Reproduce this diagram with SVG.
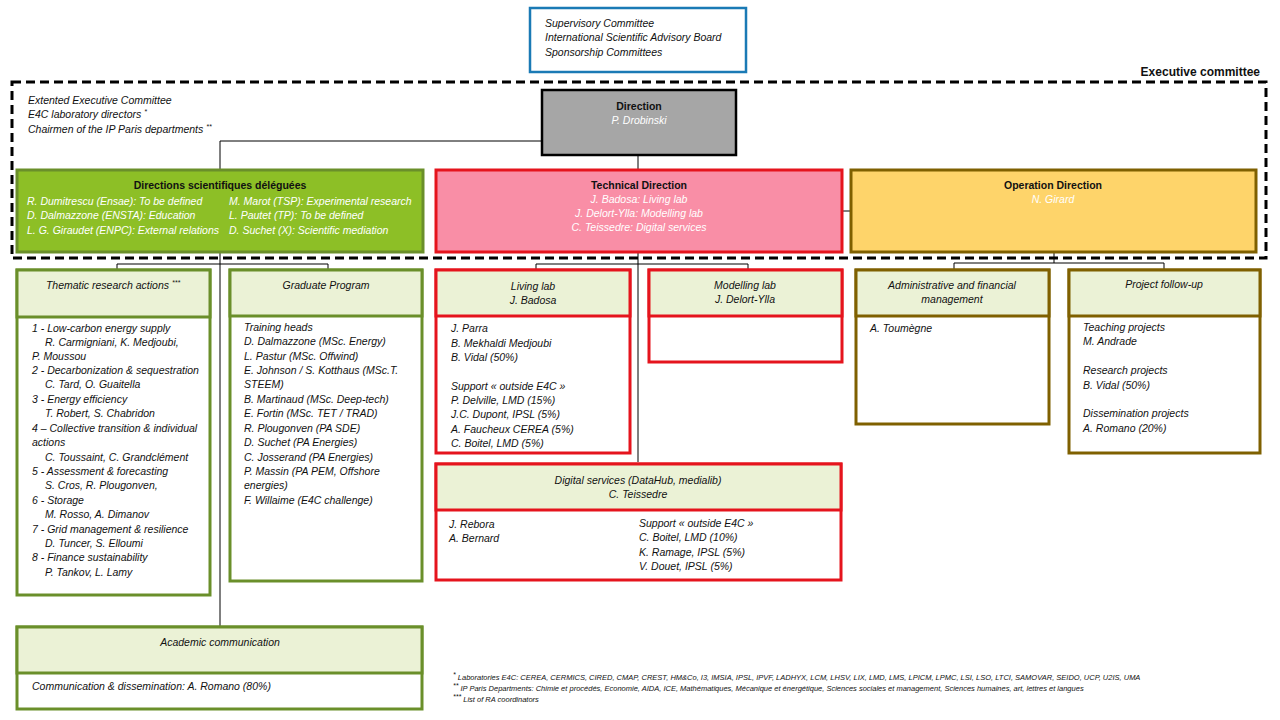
<svg xmlns="http://www.w3.org/2000/svg" width="1280" height="720" viewBox="0 0 1280 720">
<style>
text{font-family:"Liberation Sans Narrow","Liberation Sans",Arial,sans-serif;font-size:10.5px;fill:#111}
.i{font-style:italic}
.b{font-weight:bold}
.w{fill:#fff;font-style:italic}
.c{text-anchor:middle}
.g{stroke:#6a8f2a;stroke-width:3}
.r{stroke:#e5141d;stroke-width:3}
.o{stroke:#7f6000;stroke-width:3}
.h{fill:#ebf2d6}
.wh{fill:#fff}
.f{font-size:7px}
line,path{stroke:#000;stroke-width:1;fill:none}
</style>
<rect width="1280" height="720" fill="#fff"/>
<g id="connectors">
<path d="M220,141H638V170M220,141V170"/>
<path d="M638,252V462M220,252V627"/>
<path d="M117,270V264H328V270"/>
<path d="M536,270V264H748V270"/>
<path d="M1054,252V263M954,270V263H1164V270"/>
<path d="M842,211H851"/>
</g>
<g id="supervisory">
<rect x="530" y="8" width="216" height="64" fill="#fff" stroke="#1a7ab5" stroke-width="2.5"/>
<text class="i" x="545" y="27">Supervisory Committee</text>
<text class="i" x="545" y="41">International Scientific Advisory Board</text>
<text class="i" x="545" y="56">Sponsorship Committees</text>
</g>
<g id="executive">
<rect x="12" y="82" width="1254" height="176" fill="none" stroke="#000" stroke-width="3" stroke-dasharray="9,5"/>
<text class="b" x="1260" y="76" text-anchor="end" style="font-size:12px">Executive committee</text>
<text class="i" x="28" y="104">Extented Executive Committee</text>
<text class="i" x="28" y="118">E4C laboratory directors <tspan class="f" dy="-4">*</tspan></text>
<text class="i" x="28" y="133">Chairmen of the IP Paris departments <tspan class="f" dy="-4">**</tspan></text>
</g>
<g id="direction">
<rect x="542" y="90" width="194" height="65" fill="#a6a6a6" stroke="#000" stroke-width="2.5"/>
<text class="b c" x="639" y="110">Direction</text>
<text class="w c" x="639" y="124">P. Drobinski</text>
</g>
<g id="dsd">
<rect x="17" y="170" width="406" height="82" fill="#8dbf26" class="g"/>
<text class="b c" x="220" y="189">Directions scientifiques déléguées</text>
<text class="w" x="27" y="205">R. Dumitrescu (Ensae): To be defined</text>
<text class="w" x="27" y="219">D. Dalmazzone (ENSTA): Education</text>
<text class="w" x="27" y="234">L. G. Giraudet (ENPC): External relations</text>
<text class="w" x="229" y="205">M. Marot (TSP): Experimental research</text>
<text class="w" x="229" y="219">L. Pautet (TP): To be defined</text>
<text class="w" x="229" y="234">D. Suchet (X): Scientific mediation</text>
</g>
<g id="technical">
<rect x="436" y="170" width="406" height="82" fill="#f98ea6" class="r"/>
<text class="b c" x="639" y="189">Technical Direction</text>
<text class="w c" x="639" y="203">J. Badosa: Living lab</text>
<text class="w c" x="639" y="217">J. Delort-Ylla: Modelling lab</text>
<text class="w c" x="639" y="231">C. Teissedre: Digital services</text>
</g>
<g id="operation">
<rect x="851" y="170" width="405" height="82" fill="#fed46a" class="o"/>
<text class="b c" x="1053" y="189">Operation Direction</text>
<text class="w c" x="1053" y="203">N. Girard</text>
</g>
<g id="thematic">
<rect x="17" y="270" width="193" height="325" class="g wh"/>
<rect x="17" y="270" width="193" height="47" class="g h"/>
<text class="i c" x="113" y="289">Thematic research actions <tspan class="f" dy="-4">***</tspan></text>
<g class="i">
<text class="i" x="32" y="332">1 - Low-carbon energy supply</text>
<text class="i" x="45" y="346">R. Carmigniani, K. Medjoubi,</text>
<text class="i" x="32" y="360">P. Moussou</text>
<text class="i" x="32" y="374">2 - Decarbonization &amp; sequestration</text>
<text class="i" x="45" y="388">C. Tard, O. Guaitella</text>
<text class="i" x="32" y="403">3 - Energy efficiency</text>
<text class="i" x="45" y="417">T. Robert, S. Chabridon</text>
<text class="i" x="32" y="432">4 – Collective transition &amp; individual</text>
<text class="i" x="32" y="446">actions</text>
<text class="i" x="45" y="461">C. Toussaint, C. Grandclément</text>
<text class="i" x="32" y="475">5 -  Assessment &amp; forecasting</text>
<text class="i" x="45" y="489">S. Cros, R. Plougonven,</text>
<text class="i" x="32" y="504">6 -  Storage</text>
<text class="i" x="45" y="518">M. Rosso, A. Dimanov</text>
<text class="i" x="32" y="533">7 - Grid management &amp; resilience</text>
<text class="i" x="45" y="547">D. Tuncer, S. Elloumi</text>
<text class="i" x="32" y="561">8 -  Finance sustainability</text>
<text class="i" x="45" y="576">P. Tankov, L. Lamy</text>
</g>
</g>
<g id="graduate">
<rect x="230" y="270" width="192" height="311" class="g wh"/>
<rect x="230" y="270" width="192" height="46" class="g h"/>
<text class="i c" x="326" y="289">Graduate Program</text>
<text class="i" x="244" y="331">Training heads</text>
<text class="i" x="244" y="345">D. Dalmazzone (MSc. Energy)</text>
<text class="i" x="244" y="360">L. Pastur (MSc. Offwind)</text>
<text class="i" x="244" y="374">E. Johnson / S. Kotthaus (MSc.T.</text>
<text class="i" x="244" y="388">STEEM)</text>
<text class="i" x="244" y="403">B. Martinaud (MSc. Deep-tech)</text>
<text class="i" x="244" y="417">E. Fortin (MSc. TET / TRAD)</text>
<text class="i" x="244" y="432">R. Plougonven (PA SDE)</text>
<text class="i" x="244" y="446">D. Suchet (PA Energies)</text>
<text class="i" x="244" y="461">C. Josserand (PA Energies)</text>
<text class="i" x="244" y="475">P. Massin (PA PEM, Offshore</text>
<text class="i" x="244" y="489">energies)</text>
<text class="i" x="244" y="504">F. Willaime (E4C challenge)</text>
</g>
<g id="livinglab">
<rect x="436" y="270" width="194" height="183" class="r wh"/>
<rect x="436" y="270" width="194" height="46" class="r h"/>
<text class="i c" x="533" y="290">Living lab</text>
<text class="i c" x="533" y="304">J. Badosa</text>
<text class="i" x="451" y="332">J. Parra</text>
<text class="i" x="451" y="347">B. Mekhaldi Medjoubi</text>
<text class="i" x="451" y="361">B. Vidal (50%)</text>
<text class="i" x="451" y="390">Support « outside E4C »</text>
<text class="i" x="451" y="404">P. Delville, LMD (15%)</text>
<text class="i" x="451" y="418">J.C. Dupont, IPSL (5%)</text>
<text class="i" x="451" y="433">A. Faucheux CEREA (5%)</text>
<text class="i" x="451" y="447">C. Boitel, LMD (5%)</text>
</g>
<g id="modellinglab">
<rect x="649" y="270" width="193" height="92" class="r wh"/>
<rect x="649" y="270" width="193" height="46" class="r h"/>
<text class="i c" x="745" y="289">Modelling lab</text>
<text class="i c" x="745" y="303">J. Delort-Ylla</text>
</g>
<g id="digital">
<rect x="436" y="464" width="405" height="116" class="r wh"/>
<rect x="436" y="464" width="405" height="46" class="r h"/>
<text class="i c" x="638" y="484">Digital services (DataHub, medialib)</text>
<text class="i c" x="638" y="498">C. Teissedre</text>
<text class="i" x="449" y="528">J. Rebora</text>
<text class="i" x="449" y="542">A. Bernard</text>
<text class="i" x="639" y="527">Support « outside E4C »</text>
<text class="i" x="639" y="541">C. Boitel, LMD (10%)</text>
<text class="i" x="639" y="556">K. Ramage, IPSL (5%)</text>
<text class="i" x="639" y="570">V. Douet, IPSL (5%)</text>
</g>
<g id="admin">
<rect x="856" y="270" width="193" height="154" class="o wh"/>
<rect x="856" y="270" width="193" height="46" class="o h"/>
<text class="i c" x="952" y="289">Administrative and financial</text>
<text class="i c" x="952" y="303">management</text>
<text class="i" x="870" y="332">A. Toumègne</text>
</g>
<g id="project">
<rect x="1069" y="270" width="191" height="183" class="o wh"/>
<rect x="1069" y="270" width="191" height="46" class="o h"/>
<text class="i c" x="1164" y="288">Project follow-up</text>
<text class="i" x="1083" y="331">Teaching projects</text>
<text class="i" x="1083" y="345">M. Andrade</text>
<text class="i" x="1083" y="374">Research projects</text>
<text class="i" x="1083" y="389">B. Vidal (50%)</text>
<text class="i" x="1083" y="417">Dissemination projects</text>
<text class="i" x="1083" y="432">A. Romano (20%)</text>
</g>
<g id="academic">
<rect x="17" y="627" width="405" height="82" class="g wh"/>
<rect x="17" y="627" width="405" height="46" class="g h"/>
<text class="i c" x="220" y="646">Academic communication</text>
<text class="i" x="32" y="690">Communication &amp; dissemination: A. Romano (80%)</text>
</g>
<g id="footnotes">
<text class="i" x="453" y="680" style="font-size:7.5px"><tspan class="f" dy="-3">*</tspan><tspan dy="3"> Laboratories E4C: CEREA, CERMICS, CIRED, CMAP, CREST, HM&amp;Co, I3, IMSIA, IPSL, IPVF, LADHYX, LCM, LHSV, LIX, LMD, LMS, LPICM, LPMC, LSI, LSO, LTCI, SAMOVAR, SEIDO, UCP, U2IS, UMA</tspan></text>
<text class="i" x="453" y="691" style="font-size:7.5px"><tspan class="f" dy="-3">**</tspan><tspan dy="3"> IP Paris Departments: Chimie et procédés, Economie, AIDA, ICE, Mathématiques, Mécanique et énergétique, Sciences sociales et management, Sciences humaines, art, lettres et langues</tspan></text>
<text class="i" x="453" y="702" style="font-size:7.5px"><tspan class="f" dy="-3">***</tspan><tspan dy="3"> List of RA coordinators</tspan></text>
</g>
</svg>
